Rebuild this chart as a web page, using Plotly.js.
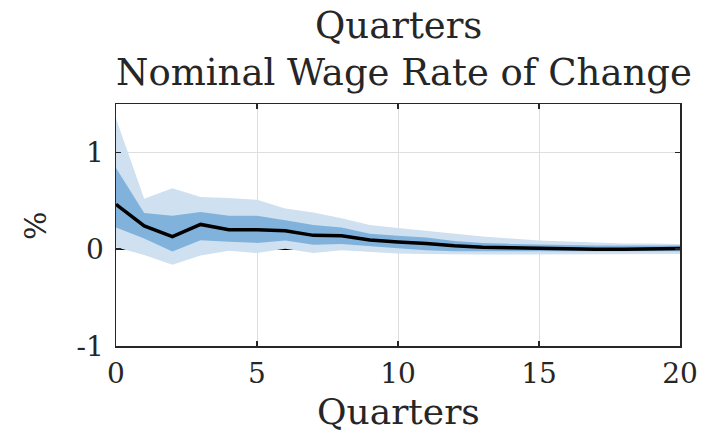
<!DOCTYPE html>
<html>
<head>
<meta charset="utf-8">
<script src="https://cdn.plot.ly/plotly-3.0.1.min.js"></script>
<style>html,body{margin:0;padding:0;background:#fff;}#chart{width:703px;height:434px;}</style>
</head>
<body>
<div id="chart"></div>
<script>
const quarters = [0,1,2,3,4,5,6,7,8,9,10,11,12,13,14,15,16,17,18,19,20];
const median = [0.464,0.24,0.13,0.256,0.20,0.20,0.19,0.143,0.14,0.096,0.075,0.06,0.035,0.02,0.015,0.007,0.005,0.0,0.0,0.003,0.007];
const innerUpper = [0.84,0.375,0.345,0.385,0.345,0.345,0.30,0.25,0.225,0.16,0.14,0.12,0.085,0.065,0.055,0.048,0.04,0.038,0.038,0.038,0.038];
const innerLower = [0.225,0.11,-0.025,0.093,0.076,0.065,0.09,0.045,0.055,0.03,0.01,-0.01,-0.02,-0.02,-0.02,-0.02,-0.02,-0.02,-0.02,-0.02,-0.02];
const outerUpper = [1.35,0.52,0.63,0.54,0.53,0.51,0.42,0.38,0.32,0.25,0.22,0.19,0.16,0.13,0.11,0.09,0.08,0.07,0.06,0.06,0.055];
const outerLower = [0.02,-0.06,-0.16,-0.065,-0.015,-0.04,0.005,-0.04,-0.01,-0.025,-0.045,-0.05,-0.055,-0.055,-0.055,-0.055,-0.055,-0.055,-0.055,-0.055,-0.05];
const xTicks = [0,5,10,15,20];
const yTicks = [-1,0,1];
const titleLines = ['Quarters', 'Nominal Wage Rate of Change'];
const xLabel = 'Quarters';
const yLabel = '%';

const FONT = '"DejaVu Serif", "Liberation Serif", serif';
const TXT = '#262626';
const lightBlue = 'rgb(207,224,241)';
const darkBlue = 'rgb(129,178,219)';

const traces = [
  {x: quarters, y: outerLower, mode: 'lines', line: {width: 0, color: lightBlue}, hoverinfo: 'skip', showlegend: false},
  {x: quarters, y: outerUpper, mode: 'lines', fill: 'tonexty', fillcolor: lightBlue, line: {width: 0, color: lightBlue}, showlegend: false},
  {x: quarters, y: innerLower, mode: 'lines', line: {width: 0, color: darkBlue}, hoverinfo: 'skip', showlegend: false},
  {x: quarters, y: innerUpper, mode: 'lines', fill: 'tonexty', fillcolor: darkBlue, line: {width: 0, color: darkBlue}, showlegend: false},
  {x: quarters, y: median, mode: 'lines', line: {width: 3.5, color: '#000'}, showlegend: false}
];

const layout = {
  width: 703, height: 434,
  margin: {l: 116, r: 23, t: 104, b: 88},
  paper_bgcolor: '#fff', plot_bgcolor: '#fff',
  font: {family: FONT, color: TXT, size: 28},
  xaxis: {
    range: [0, 20], tickvals: xTicks, ticktext: xTicks.map(String),
    showgrid: true, gridcolor: '#dedede', gridwidth: 1,
    zeroline: false,
    showline: true, linecolor: TXT, linewidth: 1.5, mirror: 'ticks',
    ticks: 'inside', ticklen: 5, tickwidth: 1.5, tickcolor: TXT,
    ticklabelstandoff: 2,
    tickfont: {family: FONT, size: 28, color: TXT}
  },
  yaxis: {
    range: [-1, 1.5], tickvals: yTicks, ticktext: ['-1', '0', '1'],
    showgrid: true, gridcolor: '#dedede', gridwidth: 1,
    zeroline: true, zerolinecolor: '#000', zerolinewidth: 1.5,
    showline: true, linecolor: TXT, linewidth: 1.5, mirror: 'ticks',
    ticks: 'inside', ticklen: 5, tickwidth: 1.5, tickcolor: TXT,
    ticklabelstandoff: 5,
    tickfont: {family: FONT, size: 28, color: TXT}
  },
  annotations: [
    {text: titleLines[0], xref: 'paper', yref: 'paper', x: 0.5, y: (346 - 25) / 242, xanchor: 'center', yanchor: 'middle', showarrow: false, font: {family: FONT, size: 37, color: TXT}},
    {text: titleLines[1], xref: 'paper', yref: 'paper', x: 0.51, y: (346 - 72) / 242, xanchor: 'center', yanchor: 'middle', showarrow: false, font: {family: FONT, size: 37, color: TXT}},
    {text: xLabel, xref: 'paper', yref: 'paper', x: 0.5, y: (346 - 411) / 242, xanchor: 'center', yanchor: 'middle', showarrow: false, font: {family: FONT, size: 36, color: TXT}},
    {text: yLabel, xref: 'paper', yref: 'paper', x: (35 - 116) / 564, y: (346 - 225) / 242, xanchor: 'center', yanchor: 'middle', textangle: -90, showarrow: false, font: {family: FONT, size: 30, color: TXT}}
  ]
};

Plotly.newPlot('chart', traces, layout, {displayModeBar: false, staticPlot: true});
</script>
</body>
</html>
